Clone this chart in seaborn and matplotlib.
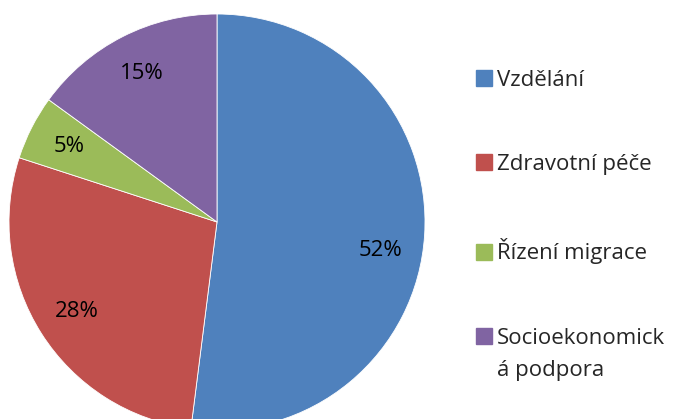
import matplotlib
matplotlib.use("Agg")
import matplotlib.pyplot as plt
import seaborn as sns
from matplotlib.lines import Line2D
from matplotlib.legend_handler import HandlerLine2D

sns.set_theme(style="white")
plt.rcParams['font.family'] = ['Open Sans', 'DejaVu Sans']

categories = ["Vzdělání", "Zdravotní péče", "Řízení migrace", "Socioekonomick\ná podpora"]
shares = [52, 28, 5, 15]
colors = ["#4F81BD", "#C0504D", "#9BBB59", "#8064A2"]


class HandlerFirstLine(HandlerLine2D):
    # put the marker next to the first line of a two-line label
    def __init__(self, shift, **kw):
        super().__init__(**kw)
        self.shift = shift

    def create_artists(self, legend, orig_handle, xdescent, ydescent,
                       width, height, fontsize, trans):
        arts = super().create_artists(legend, orig_handle, xdescent, ydescent,
                                      width, height, fontsize, trans)
        for a in arts:
            a.set_ydata([y + self.shift for y in a.get_ydata()])
        return arts


fig = plt.figure(figsize=(6.78, 4.19), dpi=100)
ax = fig.add_axes([0, 0, 1, 1])

wedges, texts, autotexts = ax.pie(
    shares, colors=colors, startangle=90, counterclock=False,
    center=(217, 197), radius=208, frame=True,
    autopct="%1.0f%%", pctdistance=0.8,
    wedgeprops=dict(edgecolor="white", linewidth=0.6),
    textprops=dict(fontsize=16, color="black"))
ax.set_xlim(0, 678)
ax.set_ylim(0, 419)
ax.set_aspect("equal")
ax.axis("off")
x0, _ = autotexts[0].get_position()
autotexts[0].set_position((x0 - 3, 168))

handles = [Line2D([0], [0], marker="s", linestyle="none", markersize=11,
                  markerfacecolor=c, markeredgecolor=c) for c in colors]
leg = fig.legend(handles, categories, loc="upper left", bbox_to_anchor=(0.684, 0.855),
                 frameon=False, fontsize=16, labelspacing=2.85, handletextpad=0.1,
                 handlelength=1.0, borderaxespad=0,
                 handler_map={handles[3]: HandlerFirstLine(13.5)})
leg.get_texts()[3].set_linespacing(1.7)

fig.savefig("out.png", dpi=100)
